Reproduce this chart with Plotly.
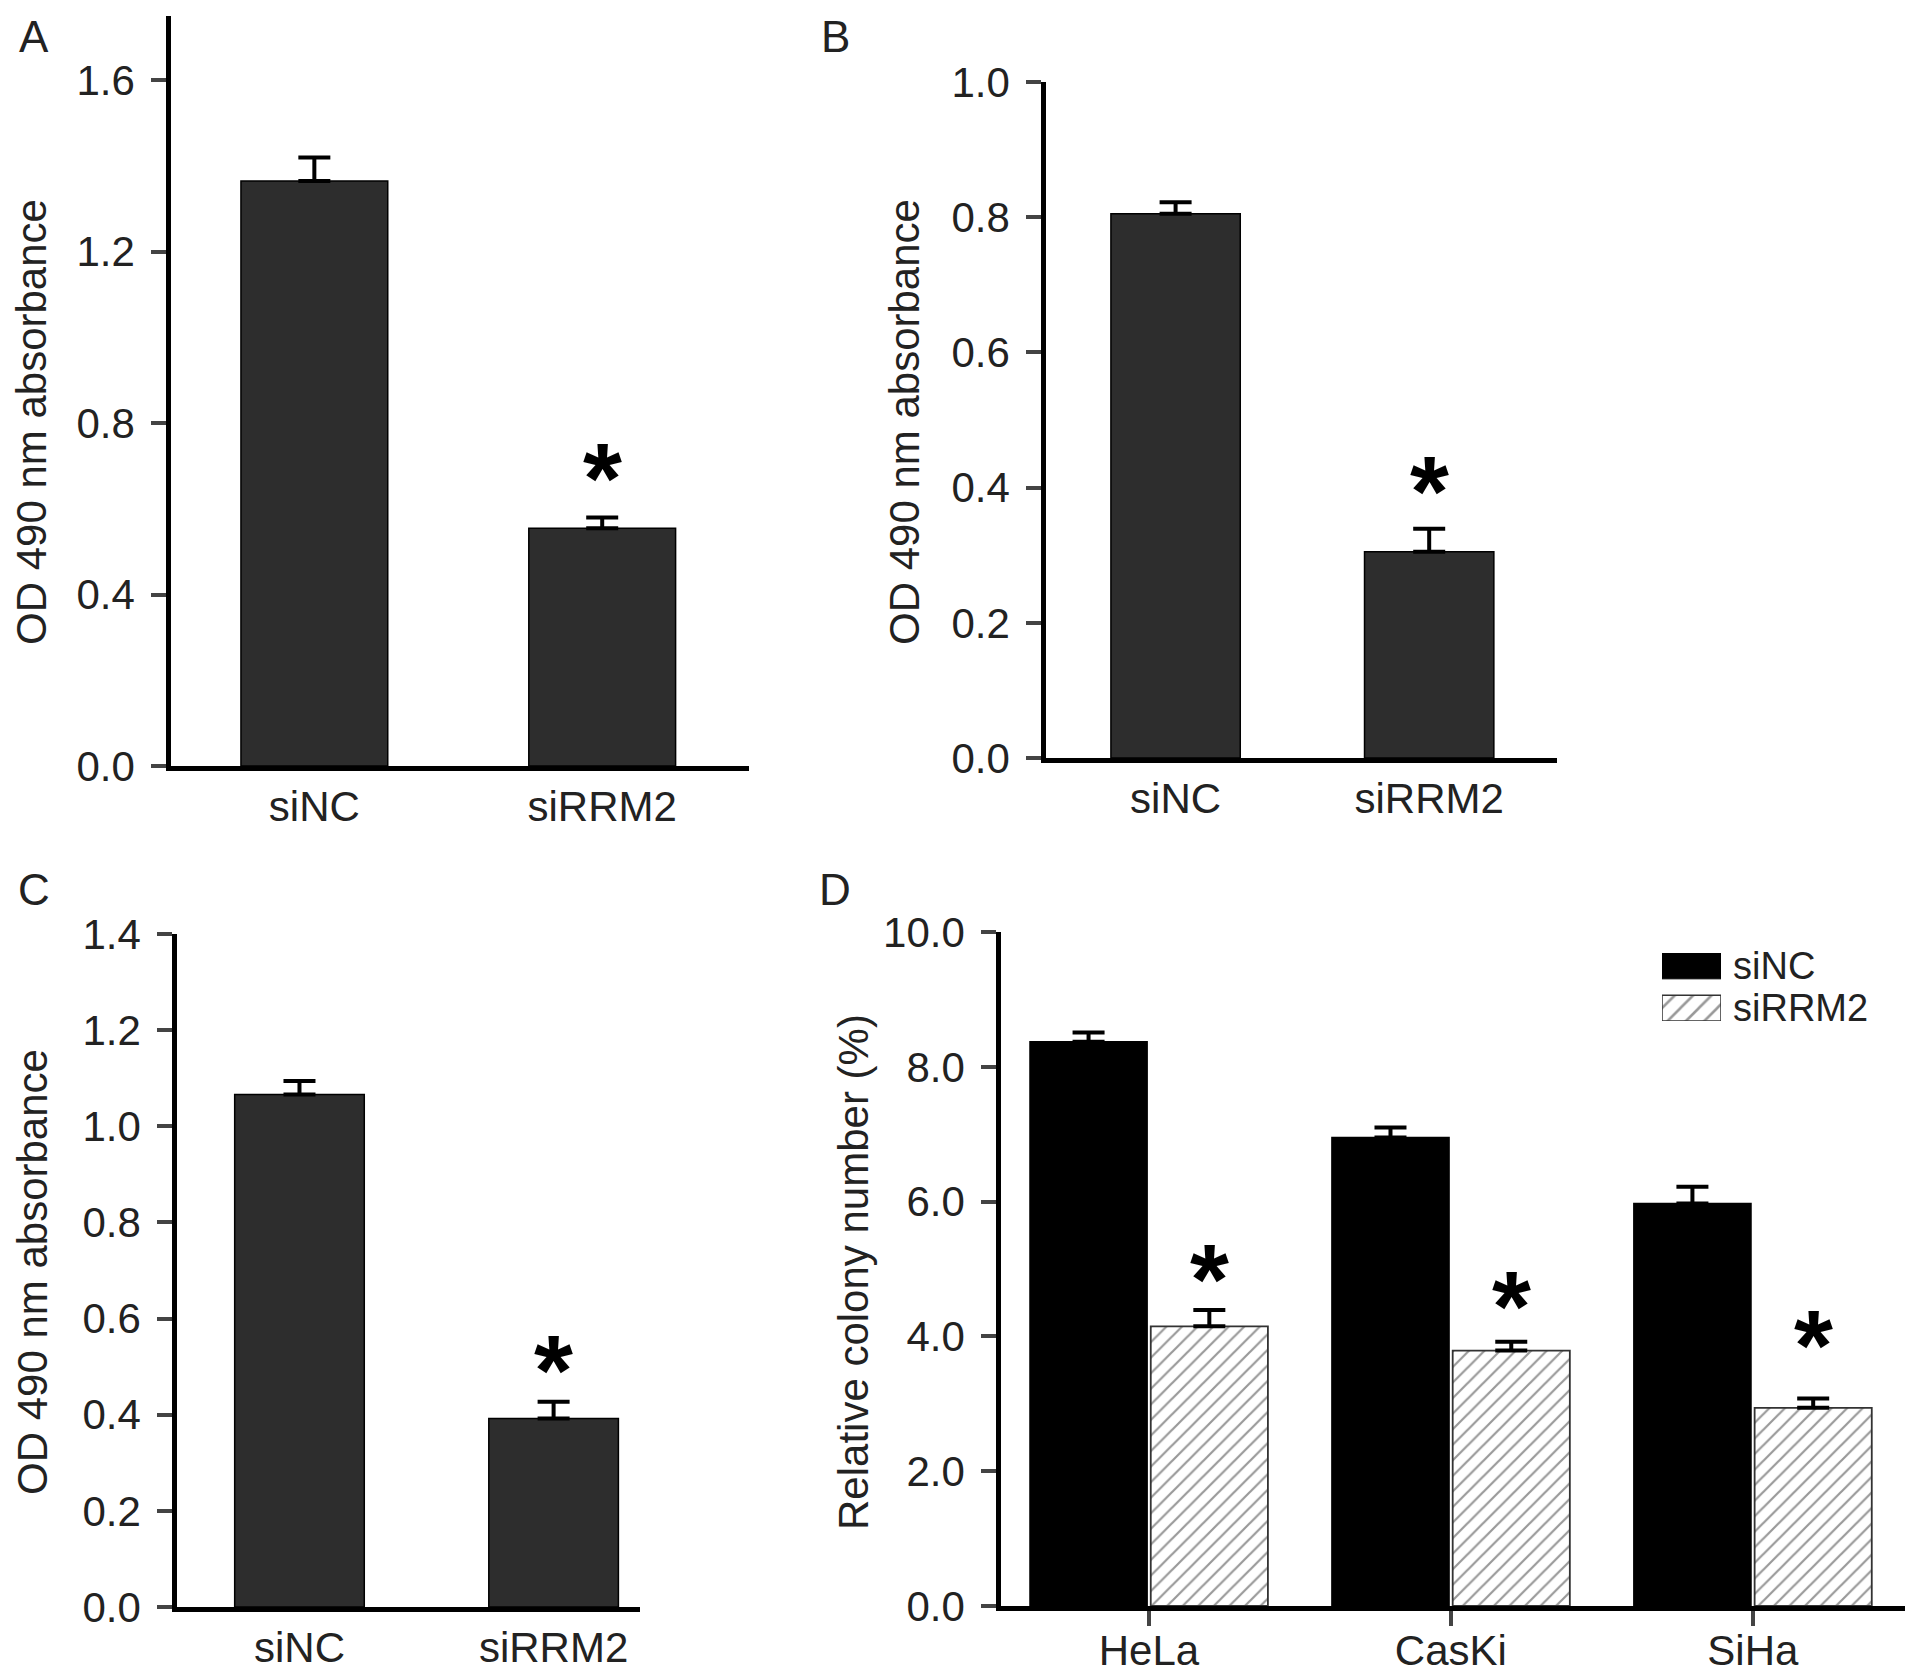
import plotly.graph_objects as go

# panels A-C : MTT absorbance
groups = ["siNC", "siRRM2"]
od_a = [1.365, 0.555]
od_a_err = [0.055, 0.025]
od_b = [0.805, 0.305]
od_b_err = [0.017, 0.034]
od_c = [1.066, 0.392]
od_c_err = [0.028, 0.035]
# height of the significance star
star_abc = [0.692, 0.408, 0.511]

# panel D : colony formation
cells = ["HeLa", "CasKi", "SiHa"]
col_nc = [8.37, 6.95, 5.97]
col_nc_err = [0.14, 0.15, 0.25]
col_rrm2 = [4.15, 3.79, 2.94]
col_rrm2_err = [0.24, 0.13, 0.14]
star_d = [4.98, 4.58, 4.0]

# page body has an 8px margin, so the figure is drawn 8px smaller
OFF = 8
W, H = 1913 - OFF, 1677 - OFF
FONT = "Liberation Sans, Arial, sans-serif"
AX = dict(showline=True, linecolor="black", linewidth=4.5, showgrid=False,
          zeroline=False, automargin=False,
          tickfont=dict(family=FONT, size=42, color="#222"))


def px_x(p):
    return (p - OFF) / W


def px_y(p):
    return 1 - (p - OFF) / H


fig = go.Figure()


def err(vals):
    return dict(type="data", array=vals, arrayminus=[0] * len(vals), symmetric=False,
                color="black", thickness=4, width=16)


# A, B, C single-series panels
panels = [
    ("x", "y", od_a, od_a_err),
    ("x2", "y2", od_b, od_b_err),
    ("x3", "y3", od_c, od_c_err),
]
for xa, ya, vals, e in panels:
    fig.add_trace(go.Bar(x=groups, y=vals, width=0.51, xaxis=xa, yaxis=ya,
                         marker=dict(color="#2d2d2d", line=dict(color="black", width=1.5)),
                         error_y=err(e), showlegend=False))

HATCH = dict(shape="/", fgcolor="#333", bgcolor="white", size=11, solidity=0.2)

# D grouped
fig.add_trace(go.Bar(x=cells, y=col_nc, name="siNC", xaxis="x4", yaxis="y4",
                     marker=dict(color="black", line=dict(color="black", width=1.5)),
                     error_y=err(col_nc_err), showlegend=False))
fig.add_trace(go.Bar(x=cells, y=col_rrm2, name="siRRM2", xaxis="x4", yaxis="y4",
                     marker=dict(color="white", line=dict(color="#333", width=1.8),
                                 pattern=HATCH),
                     error_y=err(col_rrm2_err), showlegend=False))

# legend keys drawn on a hidden axis
fig.add_trace(go.Scatter(x=[0, 1, 1, 0, 0], y=[0.62, 0.62, 1, 1, 0.62], fill="toself",
                         fillcolor="black", mode="lines", line=dict(color="black", width=1),
                         xaxis="x5", yaxis="y5", showlegend=False, hoverinfo="skip"))
fig.add_trace(go.Scatter(x=[0, 1, 1, 0, 0], y=[0, 0, 0.38, 0.38, 0], fill="toself",
                         fillcolor="white", mode="lines", line=dict(color="#333", width=1.5),
                         fillpattern=dict(HATCH, size=13),
                         xaxis="x5", yaxis="y5", showlegend=False, hoverinfo="skip"))

YT = dict(ticks="outside", ticklen=15, tickwidth=4, ticklabelstandoff=8, tickformat=".1f")
layout = dict(
    width=W, height=H, margin=dict(l=0, r=0, t=0, b=0, pad=0, autoexpand=False),
    paper_bgcolor="white", plot_bgcolor="white",
    barmode="group", bargap=0.2, bargroupgap=0.03, showlegend=False,
    font=dict(family=FONT, color="#222"),
    xaxis=dict(AX, domain=[px_x(171), px_x(749)], range=[-0.498, 1.51], anchor="y",
               ticks="", ticklabelstandoff=0),
    yaxis=dict(AX, **YT, domain=[px_y(766), px_y(16)], range=[0, 1.75], anchor="x",
               tickvals=[0, 0.4, 0.8, 1.2, 1.6]),
    xaxis2=dict(AX, domain=[px_x(1046), px_x(1557)], range=[-0.511, 1.504], anchor="y2",
                ticks="", ticklabelstandoff=0),
    yaxis2=dict(AX, **YT, domain=[px_y(758), px_y(82)], range=[0, 1.0], anchor="x2",
                tickvals=[0, 0.2, 0.4, 0.6, 0.8, 1.0]),
    xaxis3=dict(AX, domain=[px_x(177), px_x(640)], range=[-0.482, 1.34], anchor="y3",
                ticks="", ticklabelstandoff=0),
    yaxis3=dict(AX, **YT, domain=[px_y(1607), px_y(934)], range=[0, 1.4], anchor="x3",
                tickvals=[0, 0.2, 0.4, 0.6, 0.8, 1.0, 1.2, 1.4]),
    xaxis4=dict(AX, domain=[px_x(1001), px_x(1908)], range=[-0.49, 2.514], anchor="y4",
                ticks="outside", ticklen=15, tickwidth=4, ticklabelstandoff=-11),
    yaxis4=dict(AX, **YT, domain=[px_y(1606), px_y(932)], range=[0, 10], anchor="x4",
                tickvals=[0, 2, 4, 6, 8, 10]),
    xaxis5=dict(domain=[px_x(1662), px_x(1721)], range=[0, 1], visible=False, anchor="y5"),
    yaxis5=dict(domain=[px_y(1021), px_y(953)], range=[0, 1], visible=False, anchor="x5"),
)
fig.update_layout(**layout)

ann = []
# panel letters
for letter, x, y in [("A", 34, 37), ("B", 835, 37), ("C", 34, 889), ("D", 835, 889)]:
    ann.append(dict(text=letter, x=px_x(x), y=px_y(y), xref="paper", yref="paper",
                    xanchor="center", yanchor="middle", showarrow=False,
                    font=dict(family=FONT, size=44, color="#222")))
# y titles
for t, x, y in [("OD 490 nm absorbance", 32, 422), ("OD 490 nm absorbance", 905, 422),
                ("OD 490 nm absorbance", 32, 1272), ("Relative colony number (%)", 853, 1272)]:
    ann.append(dict(text=t, x=px_x(x), y=px_y(y), xref="paper", yref="paper", textangle=-90,
                    xanchor="center", yanchor="middle", showarrow=False,
                    font=dict(family=FONT, size=42, color="#222")))
# legend labels
for t, y in [("siNC", 966), ("siRRM2", 1008)]:
    ann.append(dict(text=t, x=px_x(1731), y=px_y(y), xref="paper", yref="paper",
                    xanchor="left", yanchor="middle", showarrow=False,
                    font=dict(family=FONT, size=38, color="#222")))

# significance stars
star = dict(family="Liberation Sans, Arial", size=100, color="black")
for (xa, ya), s in zip([("x", "y"), ("x2", "y2"), ("x3", "y3")], star_abc):
    ann.append(dict(text="<b>*</b>", x=groups[1], y=s, xref=xa, yref=ya,
                    yanchor="middle", yshift=-9, showarrow=False, font=star))
for i, s in enumerate(star_d):
    ann.append(dict(text="<b>*</b>", x=i + 0.2, y=s, xref="x4", yref="y4",
                    yanchor="middle", yshift=-9, showarrow=False, font=star))
fig.update_layout(annotations=ann)

fig.write_html("out.html")
